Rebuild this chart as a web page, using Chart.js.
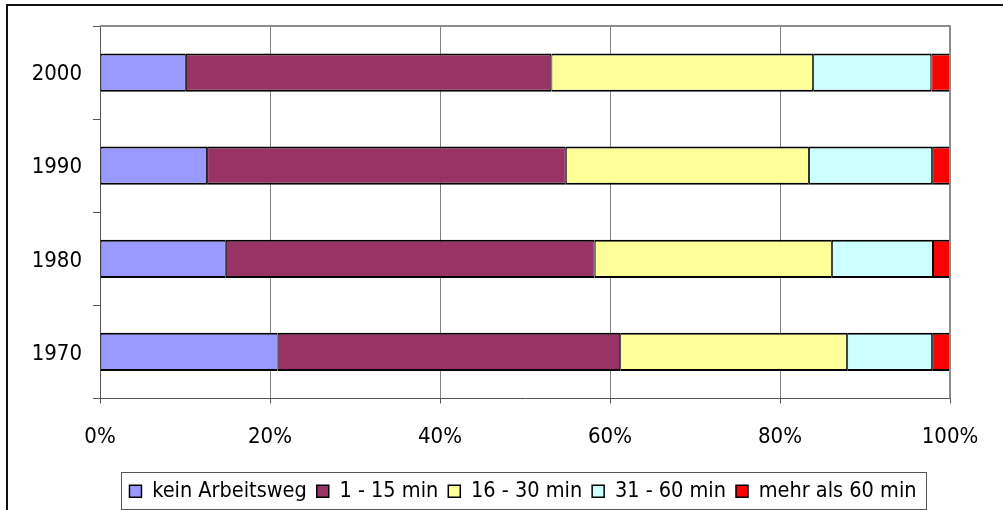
<!DOCTYPE html>
<html>
<head>
<meta charset="utf-8">
<script src="https://cdn.jsdelivr.net/npm/chart.js@4"></script>
<style>
  html, body { margin: 0; padding: 0; background: #fff; }
  #wrap { width: 1004px; height: 510px; }
</style>
</head>
<body>
<div id="wrap"><canvas id="c" width="1004" height="510"></canvas></div>
<script>
// Years, top to bottom
const years = ['2000', '1990', '1980', '1970'];

// Share of commuters by travel time (percent)
const keinArbeitsweg = [10.1, 12.6, 14.8, 20.9];
const min1bis15      = [43.0, 42.2, 43.4, 40.3];
const min16bis30     = [30.8, 28.6, 27.9, 26.7];
const min31bis60     = [13.9, 14.5, 11.9, 10.0];
const mehrAls60      = [2.2, 2.1, 2.0, 2.1];

const seriesNames = ['kein Arbeitsweg', '1 - 15 min', '16 - 30 min', '31 - 60 min', 'mehr als 60 min'];
const seriesColors = ['#9999FF', '#993366', '#FFFF99', '#CCFFFF', '#FF0000'];
const xTicks = [0, 20, 40, 60, 80, 100];

const FONT = "'DejaVu Sans Condensed', 'DejaVu Sans', sans-serif";

const values = [keinArbeitsweg, min1bis15, min16bis30, min31bis60, mehrAls60];
const datasets = values.map((v, i) => ({
  label: seriesNames[i],
  data: v,
  backgroundColor: seriesColors[i],
  borderColor: '#000',
  borderWidth: { top: 2, bottom: 2, left: 1, right: 1 },
  borderSkipped: false,
  categoryPercentage: 1.0,
  barPercentage: 0.41
}));

// Outer frame, plot frame and box around the legend
const framePlugin = {
  id: 'frames',
  afterLayout(chart) {
    // centre the legend under the whole frame and nudge it down a little
    const lg = chart.legend;
    if (lg) {
      lg.left += 48; lg.right += 48;
      lg.top += 2; lg.bottom += 2;
    }
  },
  beforeDraw(chart) {
    const ctx = chart.ctx;
    ctx.save();
    ctx.fillStyle = '#fff';
    ctx.fillRect(0, 0, chart.width, chart.height);
    ctx.strokeStyle = '#111';
    ctx.lineWidth = 2;
    ctx.beginPath();
    ctx.moveTo(7, chart.height);
    ctx.lineTo(7, 5);
    ctx.lineTo(1003, 5);
    ctx.stroke();
    ctx.restore();
  },
  afterDraw(chart) {
    const ctx = chart.ctx;
    const a = chart.chartArea;
    ctx.save();
    ctx.strokeStyle = '#8c8c8c';
    ctx.lineWidth = 2;
    ctx.beginPath();
    ctx.moveTo(a.left, a.top);
    ctx.lineTo(a.right, a.top);
    ctx.lineTo(a.right, a.bottom);
    ctx.stroke();

    const boxes = chart.legend && chart.legend.legendHitBoxes;
    if (boxes && boxes.length) {
      const first = boxes[0];
      const last = boxes[boxes.length - 1];
      const x0 = first.left - 8;
      const x1 = last.left + last.width + 10;
      const yc = first.top + first.height / 2;
      ctx.strokeStyle = '#555';
      ctx.lineWidth = 1;
      ctx.strokeRect(Math.round(x0) + 0.5, Math.round(yc - 19) + 0.5, Math.round(x1 - x0), 37);
    }
    ctx.restore();
  }
};

new Chart(document.getElementById('c'), {
  type: 'bar',
  data: { labels: years, datasets },
  options: {
    indexAxis: 'y',
    responsive: false,
    animation: false,
    devicePixelRatio: 1,
    layout: { padding: { top: 26, right: 54, left: 0, bottom: 0 } },
    scales: {
      x: {
        stacked: true,
        min: 0,
        max: 100,
        afterBuildTicks(scale) { scale.ticks = xTicks.map(v => ({ value: v })); },
        afterFit(scale) { scale.height = 70; },
        ticks: {
          color: '#000',
          font: { family: FONT, size: 22 },
          padding: 21,
          callback: v => v + '%'
        },
        grid: { color: '#808080', lineWidth: 1, tickLength: 5, tickColor: '#555' },
        border: { color: '#555', width: 1 }
      },
      y: {
        stacked: true,
        afterFit(scale) { scale.width = 100; },
        ticks: {
          color: '#000',
          font: { family: FONT, size: 22 },
          padding: 11,
          labelOffset: 2
        },
        grid: { drawOnChartArea: false, tickLength: 7, color: '#555', offset: true },
        border: { color: '#555', width: 1 }
      }
    },
    plugins: {
      legend: {
        position: 'bottom',
        labels: {
          color: '#000',
          font: { family: FONT, size: 21.5 },
          boxWidth: 12,
          boxHeight: 12,
          padding: 10,
          useBorderRadius: false
        }
      },
      tooltip: { enabled: false }
    }
  },
  plugins: [framePlugin]
});
</script>
</body>
</html>
